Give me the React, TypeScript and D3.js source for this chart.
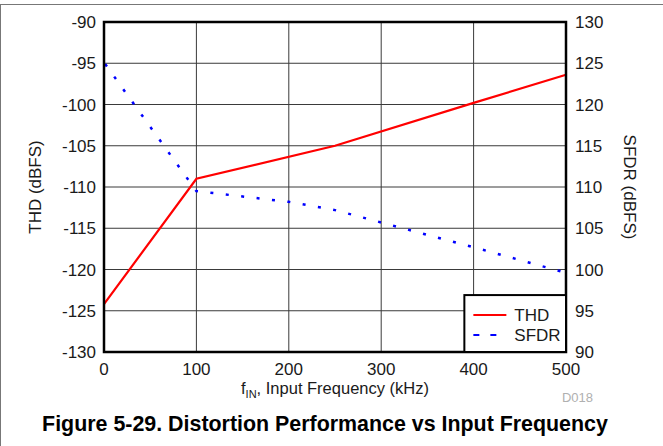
import { scaleLinear, line } from 'd3'

// Distortion vs input frequency: THD on the left axis (solid red), SFDR on the
// right axis (dotted blue), both against f_IN in kHz.
const thdFreq = [0, 100, 250, 400, 500]
const thdVals = [-124.2, -109.0, -105.0, -99.8, -96.4]
const sfdrFreq = [0, 100, 200, 250, 300, 400, 500]
const sfdrVals = [125.1, 109.5, 108.2, 107.2, 105.7, 102.7, 99.6]
const xTicks = [0, 100, 200, 300, 400, 500]
const leftTicks = [-90, -95, -100, -105, -110, -115, -120, -125, -130]
const rightTicks = [130, 125, 120, 115, 110, 105, 100, 95, 90]

const FONT = '"Liberation Sans", Arial, sans-serif'
const TXT = '#1a1a1a'

export default function App() {
  const W = 663
  const H = 446
  const m = { left: 104, right: 97, top: 22, bottom: 94 }
  const iw = W - m.left - m.right
  const ih = H - m.top - m.bottom

  const x = scaleLinear().domain([0, 500]).range([0, iw])
  const yL = scaleLinear().domain([-130, -90]).range([ih, 0])
  const yR = scaleLinear().domain([90, 130]).range([ih, 0])

  const thdPath = line<number>().x((_, i) => x(thdFreq[i])).y((d) => yL(d))(thdVals)
  const sfdrPath = line<number>().x((_, i) => x(sfdrFreq[i])).y((d) => yR(d))(sfdrVals)

  const legend = { x: x(390), y: yL(-123.1), w: x(500) - x(390), h: ih - yL(-123.1) }

  return (
    <svg
      width={W}
      height={H}
      viewBox={`0 0 ${W} ${H}`}
      style={{ position: 'absolute', left: 0, top: 0, fontFamily: FONT }}
    >
      <rect x={0} y={0} width={W} height={H} fill="#fff" />
      {/* page frame */}
      <line x1={0} x2={W} y1={4.5} y2={4.5} stroke="#777" strokeWidth={1} />
      <line x1={0.5} x2={0.5} y1={4} y2={H} stroke="#777" strokeWidth={1} />

      <g transform={`translate(${m.left},${m.top})`}>
        {xTicks.slice(1, -1).map((t) => (
          <line key={`gx${t}`} x1={x(t)} x2={x(t)} y1={0} y2={ih} stroke="#3a3a3a" strokeWidth={1} />
        ))}
        {leftTicks.slice(1, -1).map((t) => (
          <line key={`gy${t}`} x1={0} x2={iw} y1={yL(t)} y2={yL(t)} stroke="#3a3a3a" strokeWidth={1} />
        ))}

        {sfdrPath && (
          <path
            d={sfdrPath}
            fill="none"
            stroke="#0000ff"
            strokeWidth={2.5}
            strokeDasharray="3 12.5"
            strokeDashoffset={-2}
          />
        )}
        {thdPath && <path d={thdPath} fill="none" stroke="#ff0000" strokeWidth={2.2} />}

        <rect x={0} y={0} width={iw} height={ih} fill="none" stroke="#000" strokeWidth={2.5} />

        {/* legend */}
        <rect
          x={legend.x}
          y={legend.y}
          width={legend.w}
          height={legend.h}
          fill="#fff"
          stroke="#000"
          strokeWidth={2}
        />
        <line
          x1={legend.x + 9}
          x2={legend.x + 42}
          y1={legend.y + 20}
          y2={legend.y + 20}
          stroke="#ff0000"
          strokeWidth={2}
        />
        <text x={legend.x + 50} y={legend.y + 26} fontSize={17} fill={TXT}>THD</text>
        <line
          x1={legend.x + 9}
          x2={legend.x + 42}
          y1={legend.y + 40}
          y2={legend.y + 40}
          stroke="#0000ff"
          strokeWidth={2}
          strokeDasharray="6 11"
        />
        <text x={legend.x + 50} y={legend.y + 46} fontSize={17} fill={TXT}>SFDR</text>

        {/* axes labels */}
        {xTicks.map((t) => (
          <text key={`tx${t}`} x={x(t)} y={ih + 23} fontSize={17} textAnchor="middle" fill={TXT}>
            {t}
          </text>
        ))}
        {leftTicks.map((t) => (
          <text key={`tl${t}`} x={-8} y={yL(t) + 6} fontSize={17} textAnchor="end" fill={TXT}>
            {t}
          </text>
        ))}
        {rightTicks.map((t) => (
          <text key={`tr${t}`} x={iw + 9} y={yR(t) + 6} fontSize={17} textAnchor="start" fill={TXT}>
            {t}
          </text>
        ))}

        <text
          transform={`translate(${-63},${ih / 2}) rotate(-90)`}
          fontSize={17}
          textAnchor="middle"
          fill={TXT}
        >
          THD (dBFS)
        </text>
        <text
          transform={`translate(${iw + 58},${ih / 2}) rotate(90)`}
          fontSize={17}
          textAnchor="middle"
          fill={TXT}
        >
          SFDR (dBFS)
        </text>
        <text x={iw / 2} y={ih + 42} fontSize={16.5} textAnchor="middle" fill={TXT}>
          f<tspan fontSize={11} dy={4}>IN</tspan>
          <tspan dy={-4}>, Input Frequency (kHz)</tspan>
        </text>
        <text x={iw + 27} y={ih + 50} fontSize={13} textAnchor="end" fill="#b0b0b0">
          D018
        </text>
      </g>

      <text
        x={325}
        y={431}
        fontSize={21.4}
        fontWeight="bold"
        textAnchor="middle"
        fill="#000"
      >
        Figure 5-29. Distortion Performance vs Input Frequency
      </text>
    </svg>
  )
}
